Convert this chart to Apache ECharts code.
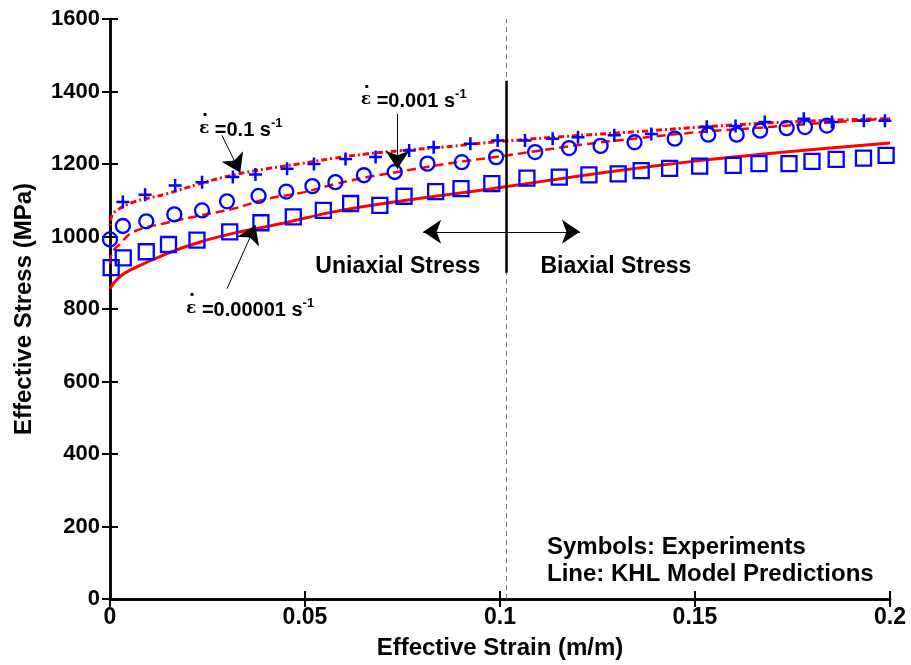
<!DOCTYPE html>
<html><head><meta charset="utf-8">
<script src="https://cdn.jsdelivr.net/npm/echarts@6/dist/echarts.min.js"></script>
<style>html,body{margin:0;padding:0;background:#fff}#c{width:911px;height:665px}</style>
</head><body><div id="c"></div>
<script>
// ---- data ----
const xTicks = [0, 0.05, 0.1, 0.15, 0.2];
const yTicks = [0, 200, 400, 600, 800, 1000, 1200, 1400, 1600];

// experiments, rate 0.1 /s (plus)
const expFastStrain = [0.0033,0.009,0.0167,0.0236,0.0315,0.0373,0.0454,0.0523,0.0604,0.0681,0.0767,0.083,0.0924,0.0994,0.1064,0.1135,0.12,0.1293,0.1388,0.153,0.1604,0.1679,0.1779,0.1851,0.1933,0.1987];
const expFastStress = [1095,1115,1141,1150,1164,1171,1187,1200,1214,1219,1237,1246,1256,1265,1265,1270,1274,1279,1283,1303,1305,1316,1325,1316,1319,1319];

// experiments, rate 0.001 /s (circle)
const expMidStrain = [0,0.0033,0.0093,0.0165,0.0236,0.03,0.0381,0.0452,0.0519,0.0578,0.0651,0.073,0.0814,0.0902,0.099,0.109,0.1177,0.1258,0.1345,0.1448,0.1534,0.1607,0.1667,0.1735,0.1782,0.1838];
const expMidStress = [992,1029,1042,1061,1072,1097,1112,1124,1139,1150,1169,1178,1201,1205,1219,1233,1244,1250,1260,1270,1281,1281,1292,1299,1302,1306];

// experiments, rate 0.00001 /s (square)
const expSlowStrain = [0.0003,0.0034,0.0093,0.015,0.0223,0.0307,0.0387,0.047,0.0547,0.0617,0.0692,0.0754,0.0835,0.09,0.0979,0.1069,0.1152,0.1228,0.1303,0.1362,0.1435,0.1512,0.1598,0.1664,0.1741,0.18,0.1862,0.1932,0.199];
const expSlowStress = [914,941,958,978,990,1013,1038,1054,1072,1091,1086,1111,1124,1132,1146,1161,1164,1170,1173,1182,1188,1194,1196,1201,1201,1207,1213,1216,1224];

// KHL model predictions
const modFastStrain = [0,0.0005,0.0017,0.0060,0.0146,0.0231,0.0317,0.0403,0.0488,0.0574,0.0660,0.0746,0.0857,0.1,0.1208,0.1362,0.1517,0.1774,0.2];
const modFastStress = [1030,1058,1072,1095,1118,1146,1170,1187,1201,1216,1228,1237,1247,1262,1279,1290,1302,1318,1325];

const modMidStrain = [0,0.0005,0.0026,0.006,0.0146,0.0231,0.0317,0.0403,0.0488,0.0574,0.066,0.0737,0.0866,0.1020,0.1208,0.1362,0.15,0.17,0.185,0.2];
const modMidStress = [925,955,980,1013,1038,1058,1077,1104,1120,1144,1164,1178,1201,1224,1253,1272,1287,1303,1315,1325];

const modSlowStrain = [0,0.0021,0.0051,0.0146,0.0231,0.0334,0.0437,0.0573,0.0728,0.1,0.119,0.1363,0.1517,0.1774,0.2];
const modSlowStress = [856,885,907,953,985,1013,1035,1068,1095,1135,1165,1190,1210,1237,1258];

// annotations
const boundaryStrain = 0.1017;
const boundaryFull = [[0.1017,0],[0.1017,1600]];
const boundarySeg = [[0.1017,1430],[0.1017,900]];
const arrowLeft = [[0.1017,1013],[0.0803,1013]];
const arrowRight = [[0.1017,1013],[0.1205,1013]];
const arrowFast = [[0.0287,1279],[0.0334,1176]];
const arrowMid = [[0.0737,1338],[0.0737,1187]];
const arrowSlow = [[0.030,856],[0.0373,1031]];
const rateLabels = [
  {pos:[0.0228,1299], rate:'0.1'},
  {pos:[0.0643,1377], rate:'0.001'},
  {pos:[0.0195,802], rate:'0.00001'}
];
const regionLabels = [
  {pos:[0.0738,918], text:'Uniaxial Stress'},
  {pos:[0.1297,918], text:'Biaxial Stress'}
];

const zip = (a,b) => a.map((v,i)=>[v,b[i]]);
const FONT = '"Liberation Sans", Arial, sans-serif';
const BLUE = '#0000ff', RED = '#ff0000';
const plusPath = 'path://M0,5L10,5M5,0L5,10';

const axisCommon = {
  axisLine:{show:true,lineStyle:{color:'#000',width:2.5}},
  axisTick:{show:true,inside:true,length:8,lineStyle:{color:'#000',width:2}},
  splitLine:{show:false}
};

const chart = echarts.init(document.getElementById('c'));
const option = {
  animation:false,
  backgroundColor:'#fff',
  grid:{left:110,right:21,top:19,bottom:64,containLabel:false},
  xAxis:[
    Object.assign({type:'value',min:0,max:0.2,interval:0.05,position:'bottom',
      name:'Effective Strain (m/m)',nameLocation:'middle',nameGap:37,
      nameTextStyle:{fontFamily:FONT,fontWeight:'bold',fontSize:24,color:'#000'},
      axisLabel:{fontFamily:FONT,fontWeight:'bold',fontSize:23,color:'#000',margin:7,
        formatter:v=>String(+v.toFixed(3))}},axisCommon),
    Object.assign({type:'value',min:0,max:0.2,interval:0.05,position:'top',axisLabel:{show:false}},axisCommon)
  ],
  yAxis:[
    Object.assign({type:'value',min:0,max:1600,interval:200,position:'left',
      name:'Effective Stress (MPa)',nameLocation:'middle',nameGap:74,
      nameTextStyle:{fontFamily:FONT,fontWeight:'bold',fontSize:24,color:'#000'},
      axisLabel:{fontFamily:FONT,fontWeight:'bold',fontSize:22,color:'#000',margin:10,
        formatter:v=>String(v)}},axisCommon),
    Object.assign({type:'value',min:0,max:1600,interval:200,position:'right',axisLabel:{show:false}},axisCommon)
  ],
  series:[
    {type:'lines',coordinateSystem:'cartesian2d',polyline:false,z:1,silent:true,
      symbol:['none','none'],lineStyle:{color:'#777',width:1,type:[5,4],opacity:1},
      data:[{coords:boundaryFull}]},
    {type:'line',name:'model slow',data:zip(modSlowStrain,modSlowStress),smooth:0.4,showSymbol:false,
      lineStyle:{color:RED,width:3},z:3},
    {type:'line',name:'model mid',data:zip(modMidStrain,modMidStress),smooth:0.4,showSymbol:false,
      lineStyle:{color:RED,width:2.5,type:[9,5]},z:3},
    {type:'line',name:'model fast',data:zip(modFastStrain,modFastStress),smooth:0.4,showSymbol:false,
      lineStyle:{color:RED,width:3,type:[2,3,6,3]},z:3},
    {type:'scatter',name:'exp fast',data:zip(expFastStrain,expFastStress),symbol:plusPath,symbolSize:13,
      itemStyle:{color:'none',borderColor:BLUE,borderWidth:2.5,opacity:1},z:4},
    {type:'scatter',name:'exp mid',data:zip(expMidStrain,expMidStress),symbol:'circle',symbolSize:14,
      itemStyle:{color:'rgba(0,0,0,0)',borderColor:BLUE,borderWidth:2.3,opacity:1},z:4},
    {type:'scatter',name:'exp slow',data:zip(expSlowStrain,expSlowStress),symbol:'rect',symbolSize:15,
      itemStyle:{color:'rgba(0,0,0,0)',borderColor:BLUE,borderWidth:2.3,opacity:1},z:4},
    {type:'lines',coordinateSystem:'cartesian2d',polyline:false,z:5,silent:true,
      symbol:['none','none'],lineStyle:{color:'#000',width:2.5,opacity:1},
      data:[{coords:boundarySeg}]},
    {type:'lines',coordinateSystem:'cartesian2d',polyline:false,z:5,silent:true,
      symbol:['none','arrow'],symbolSize:[9,18],lineStyle:{color:'#000',width:1,opacity:1},
      data:[{coords:arrowLeft},{coords:arrowRight},{coords:arrowFast},{coords:arrowMid},{coords:arrowSlow}]},
    {type:'scatter',symbolSize:0,z:6,silent:true,itemStyle:{opacity:1},
      data:rateLabels.map(r=>({value:r.pos,rate:r.rate})),
      label:{show:true,position:'inside',align:'left',verticalAlign:'middle',
        formatter:p=>'{d|\u25AA}\n{e|\u03b5}{t| =' + p.data.rate + ' s}{s|-1}',
        rich:{
          d:{fontFamily:'"DejaVu Sans"',fontSize:6,color:'#000',lineHeight:4,padding:[0,0,0,4]},
          e:{fontFamily:'"DejaVu Serif", serif',fontWeight:'bold',fontSize:17,color:'#000',lineHeight:20,padding:[0,0,4,0]},
          t:{fontFamily:FONT,fontWeight:'bold',fontSize:20,color:'#000',lineHeight:20},
          s:{fontFamily:FONT,fontWeight:'bold',fontSize:13,color:'#000',padding:[0,0,14,0]}
        }}},
    {type:'scatter',symbolSize:0,z:6,silent:true,itemStyle:{opacity:1},
      data:regionLabels.map(r=>({value:r.pos,txt:r.text})),
      label:{show:true,position:'inside',align:'center',verticalAlign:'middle',
        formatter:p=>p.data.txt,fontFamily:FONT,fontWeight:'bold',fontSize:23,color:'#000'}}
  ],
  graphic:[
    {type:'text',left:547,top:535,style:{text:'Symbols: Experiments',font:'bold 24px "Liberation Sans", Arial, sans-serif',fill:'#000'}},
    {type:'text',left:547,top:562,style:{text:'Line: KHL Model Predictions',font:'bold 24px "Liberation Sans", Arial, sans-serif',fill:'#000'}}
  ]
};
chart.setOption(option);
</script></body></html>
